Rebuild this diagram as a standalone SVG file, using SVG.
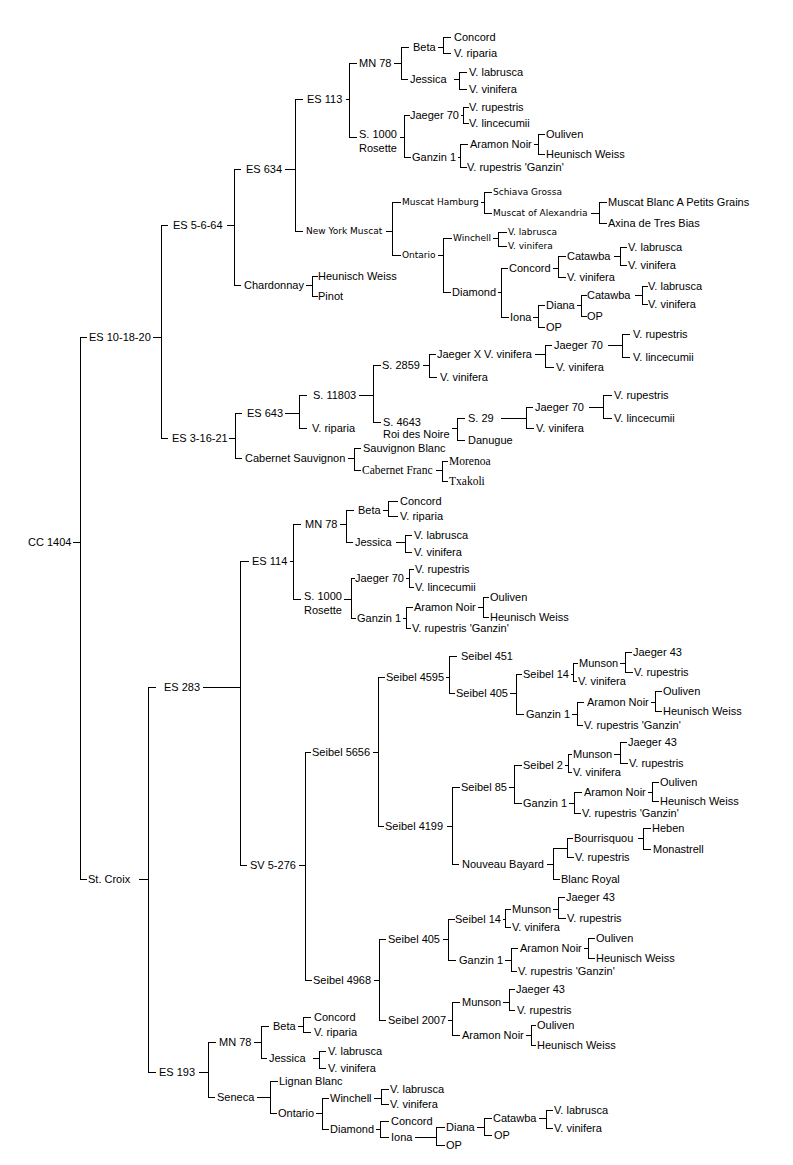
<svg xmlns="http://www.w3.org/2000/svg" width="793" height="1165" viewBox="0 0 793 1165">
<style>
text{fill:#000}
.a{font-family:"Liberation Sans",Arial,sans-serif;font-size:11px}
.s{font-family:"DejaVu Sans",Verdana,sans-serif;font-size:9px}
.t{font-family:"Liberation Serif","Times New Roman",serif;font-size:11.5px}
#connectors path{fill:none;stroke:#000;stroke-width:1;shape-rendering:crispEdges}
</style>
<rect width="793" height="1165" fill="#fff"/>
<g id="connectors" transform="translate(0.5,0.5)">
<path d="M86 337H80V879H86M72 542H80
M167 225H161V438H167M152 337H161
M240 169H234V285H240M226 225H234
M302 99H295V231H302M284 169H295
M356 63H349V137H356M345 99H349
M408 47H401V79H407M393 63H401
M450 37H443V53H450M437 47H443
M466 72H459V89H466M453 79H459
M409 115H404V157H410M399 137H404
M468 107H463V123H468M460 115H463
M467 144H460V167H466M457 157H460
M544 134H538V154H544M533 144H538
M400 202H392V255H400M385 231H392
M491 192H484V213H491M480 202H484
M606 202H599V223H606M590 213H599
M451 238H443V292H450M437 255H443
M506 232H498V246H506M492 238H498
M507 268H501V317H508M497 292H501
M565 256H558V277H565M552 268H558
M626 247H620V265H626M613 256H620
M544 305H538V327H544M532 317H538
M586 295H581V316H586M576 305H581
M647 286H642V304H647M634 295H642
M317 276H312V296H317M305 285H312
M241 413H235V458H241M228 438H235
M306 395H299V428H306M284 413H299
M380 365H373V422H380M358 395H373
M435 354H429V377H436M422 365H429
M551 345H545V367H553M534 354H545
M629 334H622V357H629M607 345H622
M464 418H457V440H464M451 428H457
M532 407H526V428H533M500 418H526
M611 395H603V418H611M588 407H603
M360 448H354V470H360M347 458H354
M447 461H442V481H447M435 470H442"/>
<path d="M155 687H148V1072H155M138 879H148
M248 561H240V865H246M202 687H240
M300 524H293V599H300M289 561H293
M353 510H346V542H352M339 524H346
M397 501H388V516H397M382 510H388
M411 535H405V552H411M395 542H405
M354 578H351V618H355M343 599H351
M413 569H409V587H413M405 578H409
M412 607H406V628H410M402 618H406
M488 597H483V617H488M477 607H483
M310 752H305V980H311M298 865H305
M384 677H378V826H383M372 752H378
M456 656H449V693H454M445 677H449
M521 674H516V714H523M509 693H516
M577 663H573V681H576M570 674H573
M631 652H625V672H632M619 663H625
M583 702H577V725H582M571 714H577
M661 691H655V711H661M650 702H655
M459 787H452V864H458M446 826H452
M521 765H514V803H521M508 787H514
M571 754H568V772H571M564 765H568
M626 742H620V763H627M613 754H620
M581 792H574V813H580M568 803H574
M658 782H652V801H658M647 792H652
M567 848H553V879H559M546 864H553
M572 838H567V857H573
M650 828H643V849H650M637 838H643
M385 939H379V1020H385M373 980H379
M454 919H448V960H455M442 939H448
M510 909H505V927H510M502 919H505
M564 897H558V918H565M552 909H558
M517 948H511V971H516M504 960H511
M594 938H588V958H594M583 948H588
M459 1002H452V1035H459M447 1020H452
M514 989H509V1010H514M502 1002H509
M535 1025H531V1045H535M525 1035H531
M215 1042H208V1097H214M198 1072H208
M268 1026H261V1058H266M253 1042H261
M310 1017H303V1032H310M297 1026H303
M325 1051H319V1068H325M312 1058H319
M277 1081H270V1113H276M256 1097H270
M328 1098H322V1129H328M315 1113H322
M388 1089H381V1104H388M373 1098H381
M388 1121H380V1137H388M375 1129H380
M444 1127H436V1145H444M414 1137H436
M491 1118H484V1135H491M476 1127H484
M552 1110H546V1128H552M538 1118H546"/>
</g>
<g id="cc1404"><text class="a" x="28" y="546">CC 1404</text></g>
<g id="es101820"><text class="a" x="89" y="341">ES 10-18-20</text></g>
<g id="es5664"><text class="a" x="173" y="229">ES 5-6-64</text></g>
<g id="es634"><text class="a" x="246" y="173">ES 634</text></g>
<g id="es113"><text class="a" x="307" y="103">ES 113</text></g>
<g id="mn78a"><text class="a" x="359" y="67">MN 78</text></g>
<g id="beta-a"><text class="a" x="413" y="51">Beta</text></g>
<g id="concord-a"><text class="a" x="454" y="41">Concord</text></g>
<g id="riparia-a"><text class="a" x="454" y="57">V. riparia</text></g>
<g id="jessica-a"><text class="a" x="410" y="83">Jessica</text></g>
<g id="labrusca-a"><text class="a" x="469" y="76">V. labrusca</text></g>
<g id="vinifera-a"><text class="a" x="469" y="93">V. vinifera</text></g>
<g id="s1000a"><text class="a" x="359" y="138">S. 1000</text><text class="a" x="359" y="152">Rosette</text></g>
<g id="jaeger70a"><text class="a" x="410" y="119">Jaeger 70</text></g>
<g id="rupestris-a"><text class="a" x="469" y="111">V. rupestris</text></g>
<g id="lincecumii-a"><text class="a" x="469" y="127">V. lincecumii</text></g>
<g id="ganzin1a"><text class="a" x="412" y="161">Ganzin 1</text></g>
<g id="aramon-a"><text class="a" x="470" y="148">Aramon Noir</text></g>
<g id="ouliven-a"><text class="a" x="546" y="138">Ouliven</text></g>
<g id="heunisch-a"><text class="a" x="546" y="158">Heunisch Weiss</text></g>
<g id="rupganzin-a"><text class="a" x="467" y="171">V. rupestris 'Ganzin'</text></g>
<g id="nymuscat"><text class="s" x="306" y="234">New York Muscat</text></g>
<g id="muscathamburg"><text class="s" x="402" y="205">Muscat Hamburg</text></g>
<g id="schiava"><text class="s" x="493" y="195">Schiava Grossa</text></g>
<g id="alexandria"><text class="s" x="493" y="216">Muscat of Alexandria</text></g>
<g id="blancpetits"><text class="a" x="608" y="206">Muscat Blanc A Petits Grains</text></g>
<g id="axina"><text class="a" x="608" y="227">Axina de Tres Bias</text></g>
<g id="ontario-a"><text class="s" x="402" y="258">Ontario</text></g>
<g id="winchell-a"><text class="s" x="453" y="241">Winchell</text></g>
<g id="labrusca-w"><text class="s" x="508" y="235">V. labrusca</text></g>
<g id="vinifera-w"><text class="s" x="508" y="249">V. vinifera</text></g>
<g id="diamond-a"><text class="a" x="452" y="296">Diamond</text></g>
<g id="concord-d"><text class="a" x="509" y="272">Concord</text></g>
<g id="catawba-a"><text class="a" x="567" y="260">Catawba</text></g>
<g id="labrusca-c"><text class="a" x="628" y="251">V. labrusca</text></g>
<g id="vinifera-c"><text class="a" x="628" y="269">V. vinifera</text></g>
<g id="vinifera-cc"><text class="a" x="567" y="281">V. vinifera</text></g>
<g id="iona-a"><text class="a" x="510" y="321">Iona</text></g>
<g id="diana-a"><text class="a" x="546" y="309">Diana</text></g>
<g id="catawba-b"><text class="a" x="587" y="299">Catawba</text></g>
<g id="labrusca-cb"><text class="a" x="648" y="290">V. labrusca</text></g>
<g id="vinifera-cb"><text class="a" x="648" y="308">V. vinifera</text></g>
<g id="op-diana"><text class="a" x="587" y="320">OP</text></g>
<g id="op-iona"><text class="a" x="546" y="331">OP</text></g>
<g id="chardonnay"><text class="a" x="244" y="289">Chardonnay</text></g>
<g id="heunisch-ch"><text class="a" x="318" y="280">Heunisch Weiss</text></g>
<g id="pinot"><text class="a" x="318" y="300">Pinot</text></g>
<g id="es31621"><text class="a" x="172" y="442">ES 3-16-21</text></g>
<g id="es643"><text class="a" x="247" y="417">ES 643</text></g>
<g id="s11803"><text class="a" x="313" y="399">S. 11803</text></g>
<g id="riparia-b"><text class="a" x="312" y="432">V. riparia</text></g>
<g id="s2859"><text class="a" x="382" y="369">S. 2859</text></g>
<g id="jaegerx"><text class="a" x="437" y="358">Jaeger X V. vinifera</text></g>
<g id="jaeger70b"><text class="a" x="554" y="349">Jaeger 70</text></g>
<g id="rupestris-b"><text class="a" x="633" y="338">V. rupestris</text></g>
<g id="lincecumii-b"><text class="a" x="633" y="361">V. lincecumii</text></g>
<g id="vinifera-jx"><text class="a" x="556" y="371">V. vinifera</text></g>
<g id="vinifera-s2859"><text class="a" x="440" y="381">V. vinifera</text></g>
<g id="s4643"><text class="a" x="383" y="426">S. 4643</text><text class="a" x="383" y="438">Roi des Noire</text></g>
<g id="s29"><text class="a" x="468" y="422">S. 29</text></g>
<g id="jaeger70c"><text class="a" x="535" y="411">Jaeger 70</text></g>
<g id="rupestris-c"><text class="a" x="614" y="399">V. rupestris</text></g>
<g id="lincecumii-c"><text class="a" x="614" y="422">V. lincecumii</text></g>
<g id="vinifera-s29"><text class="a" x="536" y="432">V. vinifera</text></g>
<g id="danugue"><text class="a" x="468" y="444">Danugue</text></g>
<g id="cabsauv"><text class="a" x="245" y="462">Cabernet Sauvignon</text></g>
<g id="sauvblanc"><text class="a" x="363" y="452">Sauvignon Blanc</text></g>
<g id="cabfranc"><text class="t" x="362" y="474">Cabernet Franc</text></g>
<g id="morenoa"><text class="t" x="449" y="465">Morenoa</text></g>
<g id="txakoli"><text class="t" x="449" y="485">Txakoli</text></g>
<g id="stcroix"><text class="a" x="88" y="883">St. Croix</text></g>
<g id="es283"><text class="a" x="164" y="691">ES 283</text></g>
<g id="es114"><text class="a" x="252" y="565">ES 114</text></g>
<g id="mn78b"><text class="a" x="305" y="528">MN 78</text></g>
<g id="beta-b"><text class="a" x="358" y="514">Beta</text></g>
<g id="concord-b"><text class="a" x="400" y="505">Concord</text></g>
<g id="riparia-c"><text class="a" x="400" y="520">V. riparia</text></g>
<g id="jessica-b"><text class="a" x="355" y="546">Jessica</text></g>
<g id="labrusca-b"><text class="a" x="414" y="539">V. labrusca</text></g>
<g id="vinifera-b"><text class="a" x="414" y="556">V. vinifera</text></g>
<g id="s1000b"><text class="a" x="304" y="600">S. 1000</text><text class="a" x="304" y="614">Rosette</text></g>
<g id="jaeger70d"><text class="a" x="355" y="582">Jaeger 70</text></g>
<g id="rupestris-d"><text class="a" x="415" y="573">V. rupestris</text></g>
<g id="lincecumii-d"><text class="a" x="415" y="591">V. lincecumii</text></g>
<g id="ganzin1b"><text class="a" x="357" y="622">Ganzin 1</text></g>
<g id="aramon-b"><text class="a" x="414" y="611">Aramon Noir</text></g>
<g id="ouliven-b"><text class="a" x="490" y="601">Ouliven</text></g>
<g id="heunisch-b"><text class="a" x="490" y="621">Heunisch Weiss</text></g>
<g id="rupganzin-b"><text class="a" x="412" y="632">V. rupestris 'Ganzin'</text></g>
<g id="sv5276"><text class="a" x="250" y="869">SV 5-276</text></g>
<g id="seibel5656"><text class="a" x="312" y="756">Seibel 5656</text></g>
<g id="seibel4595"><text class="a" x="386" y="681">Seibel 4595</text></g>
<g id="seibel451"><text class="a" x="461" y="660">Seibel 451</text></g>
<g id="seibel405a"><text class="a" x="456" y="697">Seibel 405</text></g>
<g id="seibel14a"><text class="a" x="523" y="678">Seibel 14</text></g>
<g id="munson-a"><text class="a" x="579" y="667">Munson</text></g>
<g id="jaeger43a"><text class="a" x="633" y="656">Jaeger 43</text></g>
<g id="rupestris-e"><text class="a" x="634" y="676">V. rupestris</text></g>
<g id="vinifera-e"><text class="a" x="578" y="685">V. vinifera</text></g>
<g id="ganzin1c"><text class="a" x="526" y="718">Ganzin 1</text></g>
<g id="aramon-c"><text class="a" x="587" y="706">Aramon Noir</text></g>
<g id="ouliven-c"><text class="a" x="663" y="695">Ouliven</text></g>
<g id="heunisch-c"><text class="a" x="663" y="715">Heunisch Weiss</text></g>
<g id="rupganzin-c"><text class="a" x="584" y="729">V. rupestris 'Ganzin'</text></g>
<g id="seibel4199"><text class="a" x="385" y="830">Seibel 4199</text></g>
<g id="seibel85"><text class="a" x="461" y="791">Seibel 85</text></g>
<g id="seibel2"><text class="a" x="523" y="769">Seibel 2</text></g>
<g id="munson-b"><text class="a" x="573" y="758">Munson</text></g>
<g id="jaeger43b"><text class="a" x="628" y="746">Jaeger 43</text></g>
<g id="rupestris-f"><text class="a" x="629" y="767">V. rupestris</text></g>
<g id="vinifera-f"><text class="a" x="573" y="776">V. vinifera</text></g>
<g id="ganzin1d"><text class="a" x="523" y="807">Ganzin 1</text></g>
<g id="aramon-d"><text class="a" x="584" y="796">Aramon Noir</text></g>
<g id="ouliven-d"><text class="a" x="660" y="786">Ouliven</text></g>
<g id="heunisch-d"><text class="a" x="660" y="805">Heunisch Weiss</text></g>
<g id="rupganzin-d"><text class="a" x="582" y="817">V. rupestris 'Ganzin'</text></g>
<g id="nouveaubayard"><text class="a" x="462" y="868">Nouveau Bayard</text></g>
<g id="bourrisquou"><text class="a" x="574" y="842">Bourrisquou</text></g>
<g id="heben"><text class="a" x="652" y="832">Heben</text></g>
<g id="monastrell"><text class="a" x="653" y="853">Monastrell</text></g>
<g id="rupestris-g"><text class="a" x="575" y="861">V. rupestris</text></g>
<g id="blancroyal"><text class="a" x="561" y="883">Blanc Royal</text></g>
<g id="seibel4968"><text class="a" x="313" y="984">Seibel 4968</text></g>
<g id="seibel405b"><text class="a" x="388" y="943">Seibel 405</text></g>
<g id="seibel14b"><text class="a" x="455" y="923">Seibel 14</text></g>
<g id="munson-c"><text class="a" x="512" y="913">Munson</text></g>
<g id="jaeger43c"><text class="a" x="566" y="901">Jaeger 43</text></g>
<g id="rupestris-h"><text class="a" x="567" y="922">V. rupestris</text></g>
<g id="vinifera-h"><text class="a" x="512" y="931">V. vinifera</text></g>
<g id="ganzin1e"><text class="a" x="459" y="964">Ganzin 1</text></g>
<g id="aramon-e"><text class="a" x="520" y="952">Aramon Noir</text></g>
<g id="ouliven-e"><text class="a" x="596" y="942">Ouliven</text></g>
<g id="heunisch-e"><text class="a" x="596" y="962">Heunisch Weiss</text></g>
<g id="rupganzin-e"><text class="a" x="518" y="975">V. rupestris 'Ganzin'</text></g>
<g id="seibel2007"><text class="a" x="388" y="1024">Seibel 2007</text></g>
<g id="munson-d"><text class="a" x="462" y="1006">Munson</text></g>
<g id="jaeger43d"><text class="a" x="516" y="993">Jaeger 43</text></g>
<g id="rupestris-i"><text class="a" x="517" y="1014">V. rupestris</text></g>
<g id="aramon-f"><text class="a" x="462" y="1039">Aramon Noir</text></g>
<g id="ouliven-f"><text class="a" x="537" y="1029">Ouliven</text></g>
<g id="heunisch-f"><text class="a" x="537" y="1049">Heunisch Weiss</text></g>
<g id="es193"><text class="a" x="159" y="1076">ES 193</text></g>
<g id="mn78c"><text class="a" x="219" y="1046">MN 78</text></g>
<g id="beta-c"><text class="a" x="273" y="1030">Beta</text></g>
<g id="concord-c"><text class="a" x="314" y="1021">Concord</text></g>
<g id="riparia-d"><text class="a" x="314" y="1036">V. riparia</text></g>
<g id="jessica-c"><text class="a" x="269" y="1062">Jessica</text></g>
<g id="labrusca-j"><text class="a" x="328" y="1055">V. labrusca</text></g>
<g id="vinifera-j"><text class="a" x="328" y="1072">V. vinifera</text></g>
<g id="seneca"><text class="a" x="217" y="1101">Seneca</text></g>
<g id="lignan"><text class="a" x="279" y="1085">Lignan Blanc</text></g>
<g id="ontario-b"><text class="a" x="278" y="1117">Ontario</text></g>
<g id="winchell-b"><text class="a" x="330" y="1102">Winchell</text></g>
<g id="labrusca-wb"><text class="a" x="390" y="1093">V. labrusca</text></g>
<g id="vinifera-wb"><text class="a" x="390" y="1108">V. vinifera</text></g>
<g id="diamond-b"><text class="a" x="330" y="1133">Diamond</text></g>
<g id="concord-e"><text class="a" x="391" y="1125">Concord</text></g>
<g id="iona-b"><text class="a" x="391" y="1141">Iona</text></g>
<g id="diana-b"><text class="a" x="446" y="1131">Diana</text></g>
<g id="catawba-c"><text class="a" x="493" y="1122">Catawba</text></g>
<g id="labrusca-k"><text class="a" x="554" y="1114">V. labrusca</text></g>
<g id="vinifera-k"><text class="a" x="554" y="1132">V. vinifera</text></g>
<g id="op-k"><text class="a" x="494" y="1139">OP</text></g>
<g id="op-l"><text class="a" x="446" y="1149">OP</text></g>
</svg>
